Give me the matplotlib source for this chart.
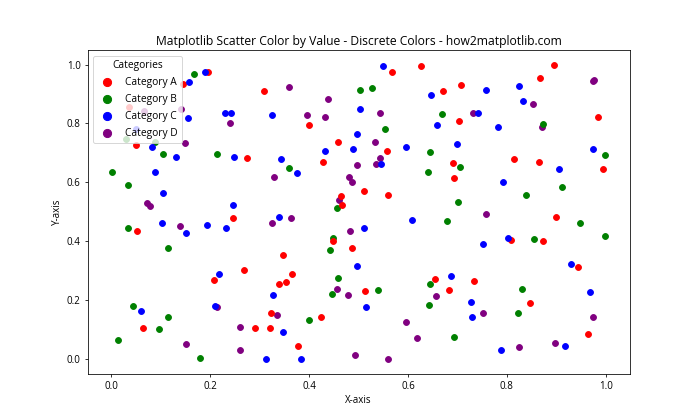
import matplotlib
matplotlib.use('Agg')
import matplotlib.pyplot as plt

plt.rcParams['font.family'] = ['Open Sans', 'DejaVu Sans']

# values
a_x = [0.196, 0.146, 0.037, 0.050, 0.308, 0.400, 0.458, 0.275, 0.429, 0.626,
       0.568, 0.670, 0.708, 0.704, 0.557, 0.896, 0.866, 0.984, 0.814, 0.865,
       0.994, 0.900, 0.809, 0.872, 0.943, 0.691, 0.694, 0.512, 0.559, 0.464,
       0.466, 0.246, 0.449, 0.487, 0.348, 0.053, 0.208, 0.065, 0.268, 0.366,
       0.340, 0.354, 0.513, 0.324, 0.425, 0.290, 0.321, 0.378, 0.655, 0.734,
       0.683, 0.847, 0.963]
a_y = [0.975, 0.933, 0.857, 0.726, 0.909, 0.794, 0.738, 0.683, 0.669, 0.995,
       0.974, 0.909, 0.930, 0.808, 0.706, 0.998, 0.954, 0.823, 0.679, 0.671,
       0.645, 0.482, 0.406, 0.402, 0.313, 0.666, 0.614, 0.570, 0.559, 0.554,
       0.525, 0.479, 0.403, 0.379, 0.354, 0.436, 0.269, 0.105, 0.303, 0.289,
       0.257, 0.261, 0.233, 0.157, 0.144, 0.106, 0.108, 0.044, 0.273, 0.266,
       0.237, 0.190, 0.087]

b_x = [0.167, 0.029, 0.089, 0.105, 0.214, 0.504, 0.527, 0.668, 0.553, 0.645,
       0.872, 0.999, 0.912, 0.838, 0.947, 0.854, 0.999, 0.705, 0.641, 0.701,
       0.679, 0.360, 0.457, 0.449, 0.443, 0.002, 0.034, 0.035, 0.115, 0.044,
       0.115, 0.097, 0.013, 0.179, 0.458, 0.447, 0.399, 0.540, 0.644, 0.643,
       0.693, 0.831, 0.823]
b_y = [0.967, 0.746, 0.736, 0.695, 0.696, 0.912, 0.921, 0.831, 0.781, 0.702,
       0.799, 0.692, 0.583, 0.557, 0.462, 0.409, 0.418, 0.652, 0.636, 0.533,
       0.470, 0.648, 0.513, 0.413, 0.370, 0.636, 0.590, 0.445, 0.377, 0.181,
       0.144, 0.104, 0.067, 0.006, 0.277, 0.221, 0.133, 0.234, 0.256, 0.186,
       0.076, 0.239, 0.156]

c_x = [0.189, 0.157, 0.230, 0.155, 0.050, 0.082, 0.132, 0.243, 0.325, 0.504,
       0.497, 0.432, 0.488, 0.248, 0.344, 0.550, 0.647, 0.758, 0.741, 0.658,
       0.781, 0.597, 0.700, 0.545, 0.825, 0.833, 0.975, 0.906, 0.793, 0.803,
       0.929, 0.608, 0.512, 0.752, 0.376, 0.246, 0.232, 0.340, 0.497, 0.089,
       0.105, 0.103, 0.152, 0.193, 0.218, 0.209, 0.060, 0.327, 0.348, 0.313,
       0.384, 0.516, 0.688, 0.727, 0.729, 0.789, 0.967, 0.918]
c_y = [0.975, 0.941, 0.836, 0.818, 0.782, 0.719, 0.686, 0.834, 0.830, 0.849,
       0.765, 0.707, 0.713, 0.686, 0.678, 0.996, 0.895, 0.913, 0.836, 0.796,
       0.787, 0.719, 0.729, 0.661, 0.928, 0.875, 0.713, 0.644, 0.601, 0.411,
       0.322, 0.474, 0.445, 0.393, 0.631, 0.523, 0.447, 0.483, 0.318, 0.635,
       0.565, 0.463, 0.430, 0.455, 0.290, 0.181, 0.164, 0.220, 0.094, 0.002,
       0.002, 0.176, 0.282, 0.194, 0.143, 0.031, 0.230, 0.047]

d_x = [0.067, 0.142, 0.150, 0.360, 0.439, 0.395, 0.432, 0.241, 0.544, 0.731,
       0.533, 0.543, 0.536, 0.975, 0.977, 0.852, 0.871, 0.496, 0.330, 0.480,
       0.486, 0.460, 0.364, 0.326, 0.483, 0.758, 0.072, 0.079, 0.140, 0.213,
       0.151, 0.457, 0.478, 0.336, 0.260, 0.260, 0.493, 0.656, 0.752, 0.597,
       0.618, 0.560, 0.975, 0.898, 0.825]
d_y = [0.843, 0.849, 0.733, 0.925, 0.883, 0.830, 0.821, 0.802, 0.834, 0.836,
       0.736, 0.682, 0.662, 0.944, 0.948, 0.867, 0.789, 0.660, 0.618, 0.617,
       0.603, 0.539, 0.479, 0.463, 0.436, 0.493, 0.532, 0.521, 0.451, 0.176,
       0.051, 0.238, 0.218, 0.149, 0.111, 0.032, 0.016, 0.216, 0.159, 0.126,
       0.072, 0.001, 0.145, 0.054, 0.041]

labels = ['Category A', 'Category B', 'Category C', 'Category D']
colors = ['red', 'green', 'blue', 'purple']

fig, ax = plt.subplots(figsize=(10, 6))

handles = {}
# draw order chosen so overlaps look like the reference
for i in [3, 1, 0, 2]:
    xs = [a_x, b_x, c_x, d_x][i]
    ys = [a_y, b_y, c_y, d_y][i]
    handles[i] = ax.scatter(xs, ys, c=colors[i], label=labels[i])

ax.legend([handles[i] for i in range(4)], labels, title='Categories',
          loc='upper left', markerscale=1.4, labelspacing=0.6,
          fontsize=10.5, title_fontsize=10.5)
ax.set_title('Matplotlib Scatter Color by Value - Discrete Colors - how2matplotlib.com',
             fontsize=12.5)
ax.set_xlabel('X-axis')
ax.set_ylabel('Y-axis')

plt.savefig('out.png', dpi=70)
